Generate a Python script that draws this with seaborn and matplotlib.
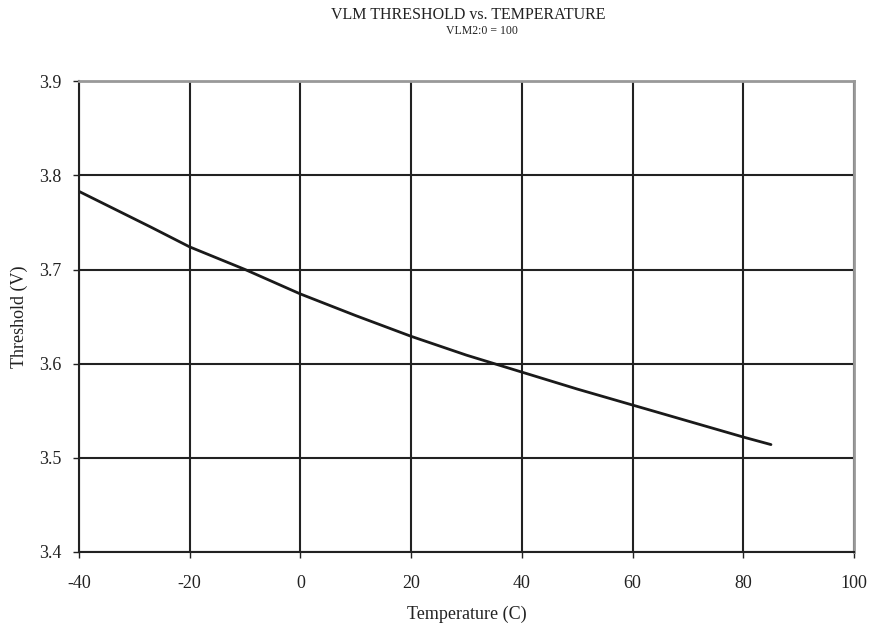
import matplotlib
matplotlib.use("Agg")
import matplotlib.pyplot as plt
import seaborn as sns
import pandas as pd

temperature = [-40, -27, -20, -10, 0, 10, 20, 30, 40, 50, 60, 70, 80, 85]
threshold = [3.783, 3.745, 3.724, 3.700, 3.674, 3.651, 3.629, 3.609, 3.591,
             3.573, 3.556, 3.539, 3.522, 3.514]
x_ticks = [-40, -20, 0, 20, 40, 60, 80, 100]
y_ticks = [3.4, 3.5, 3.6, 3.7, 3.8, 3.9]

sns.set_style("white")
plt.rcParams["font.family"] = ["Liberation Serif", "DejaVu Serif"]

df = pd.DataFrame({"Temperature": temperature, "Threshold": threshold})

fig = plt.figure(figsize=(8.75, 6.3), dpi=100)
ax = fig.add_axes([0.0903, 0.124, 0.8857, 0.747])
sns.lineplot(data=df, x="Temperature", y="Threshold", color="#1a1a1a",
             linewidth=2, ax=ax)

ax.set_xlim(-40, 100)
ax.set_ylim(3.4, 3.9)
ax.set_xticks(x_ticks)
ax.set_yticks(y_ticks)
ax.set_xticklabels([str(t) for t in x_ticks])
ax.set_yticklabels([f"{v:.1f}" for v in y_ticks])
ax.grid(True, color="#222222", linewidth=1.5)
ax.set_axisbelow(True)
ax.tick_params(axis="both", direction="out", length=4.5, width=1,
               color="#222222", labelsize=13, bottom=True, left=True,
               labelcolor="#222222")
ax.tick_params(axis="x", pad=12)
ax.tick_params(axis="y", pad=8)

for side in ["left", "bottom"]:
    ax.spines[side].set_color("#222222")
    ax.spines[side].set_linewidth(1.5)
for side in ["right", "top"]:
    ax.spines[side].set_color("#999999")
    ax.spines[side].set_linewidth(2)

ax.set_xlabel("Temperature (C)", fontsize=13, labelpad=10, color="#222222")
ax.set_ylabel("Threshold (V)", fontsize=13, labelpad=8, color="#222222")

fig.text(0.535, 0.976, "VLM THRESHOLD vs. TEMPERATURE", ha="center",
         va="center", fontsize=11.5, color="#222222")
fig.text(0.551, 0.951, "VLM2:0 = 100", ha="center", va="center",
         fontsize=8.5, color="#222222")

fig.savefig("out.png", dpi=100)
